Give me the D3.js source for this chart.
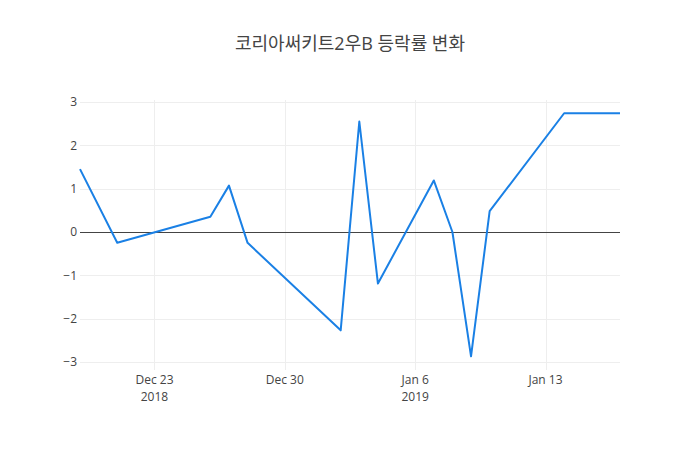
<!DOCTYPE html>
<html>
<head>
<meta charset="utf-8">
<script src="https://cdn.jsdelivr.net/npm/d3@7"></script>
<style>
  body { margin: 0; background: #fff; }
  text { font-family: "Open Sans", "Noto Sans CJK KR", sans-serif; }
</style>
</head>
<body>
<div id="chart"></div>
<script>
const title = "코리아써키트2우B 등락률 변화";

// daily change (%) by trading date
const dates = [
  "2018-12-19", "2018-12-21", "2018-12-26", "2018-12-27", "2018-12-28",
  "2019-01-02", "2019-01-03", "2019-01-04", "2019-01-07", "2019-01-08",
  "2019-01-09", "2019-01-10", "2019-01-14", "2019-01-17",
];
const changes = [
  1.45, -0.25, 0.35, 1.07, -0.25,
  -2.27, 2.55, -1.19, 1.19, 0.0,
  -2.87, 0.48, 2.74, 2.74,
];

const xTickDates = ["2018-12-23", "2018-12-30", "2019-01-06", "2019-01-13"];
const xTickLabels = [["Dec 23", "2018"], ["Dec 30"], ["Jan 6", "2019"], ["Jan 13"]];
const yTicks = [-3, -2, -1, 0, 1, 2, 3];

const width = 700, height = 450;
const margin = { top: 100, right: 80, bottom: 80, left: 80 };

const parse = d3.utcParse("%Y-%m-%d");
const points = dates.map((d, i) => ({ date: parse(d), value: changes[i] }));

const svg = d3.select("#chart").append("svg")
  .attr("width", width)
  .attr("height", height);

const x = d3.scaleUtc()
  .domain(d3.extent(points, (p) => p.date))
  .range([margin.left, width - margin.right]);

const y = d3.scaleLinear()
  .domain([-3.185, 3.046])
  .range([height - margin.bottom, margin.top]);

// snap hairlines to the pixel grid
const crisp = (v) => Math.round(v) + 0.5;

// grid
svg.append("g")
  .selectAll("line")
  .data(xTickDates.map(parse))
  .join("line")
  .attr("x1", (d) => crisp(x(d))).attr("x2", (d) => crisp(x(d)))
  .attr("y1", margin.top).attr("y2", height - margin.bottom)
  .attr("stroke", "#eee");

svg.append("g")
  .selectAll("line")
  .data(yTicks.filter((t) => t !== 0))
  .join("line")
  .attr("x1", margin.left).attr("x2", width - margin.right)
  .attr("y1", (d) => crisp(y(d))).attr("y2", (d) => crisp(y(d)))
  .attr("stroke", "#eee");

// zero line
svg.append("line")
  .attr("x1", margin.left).attr("x2", width - margin.right)
  .attr("y1", crisp(y(0))).attr("y2", crisp(y(0)))
  .attr("stroke", "#444")
  .attr("stroke-width", 1);

// y labels
const yAxis = d3.axisLeft(y)
  .tickValues(yTicks)
  .tickSize(0)
  .tickPadding(3)
  .tickFormat((d) => d < 0 ? "\u2212" + Math.abs(d) : String(d));

svg.append("g")
  .attr("transform", `translate(${margin.left},0)`)
  .call(yAxis)
  .call((g) => g.select(".domain").remove())
  .call((g) => g.selectAll("text")
    .attr("fill", "#444")
    .style("font-size", "12px")
    .style("font-family", "'Open Sans', sans-serif"));

// x labels, one text per line
const xg = svg.append("g")
  .attr("transform", `translate(0,${height - margin.bottom})`);
xTickDates.map(parse).forEach((d, i) => {
  xTickLabels[i].forEach((s, j) => {
    xg.append("text")
      .attr("x", x(d))
      .attr("y", 14 + j * 16.5)
      .attr("text-anchor", "middle")
      .attr("fill", "#444")
      .style("font-size", "12px")
      .style("font-family", "'Open Sans', sans-serif")
      .text(s);
  });
});

// line
const line = d3.line()
  .x((p) => x(p.date))
  .y((p) => y(p.value));

svg.append("path")
  .datum(points)
  .attr("fill", "none")
  .attr("stroke", "#1a80e5")
  .attr("stroke-width", 2)
  .attr("stroke-linejoin", "round")
  .attr("d", line);

// title
svg.append("text")
  .attr("x", width / 2)
  .attr("y", 50)
  .attr("text-anchor", "middle")
  .attr("fill", "#444")
  .style("font-size", "18px")
  .style("font-family", "'Open Sans', 'Noto Sans CJK KR', sans-serif")
  .text(title);
</script>
</body>
</html>
